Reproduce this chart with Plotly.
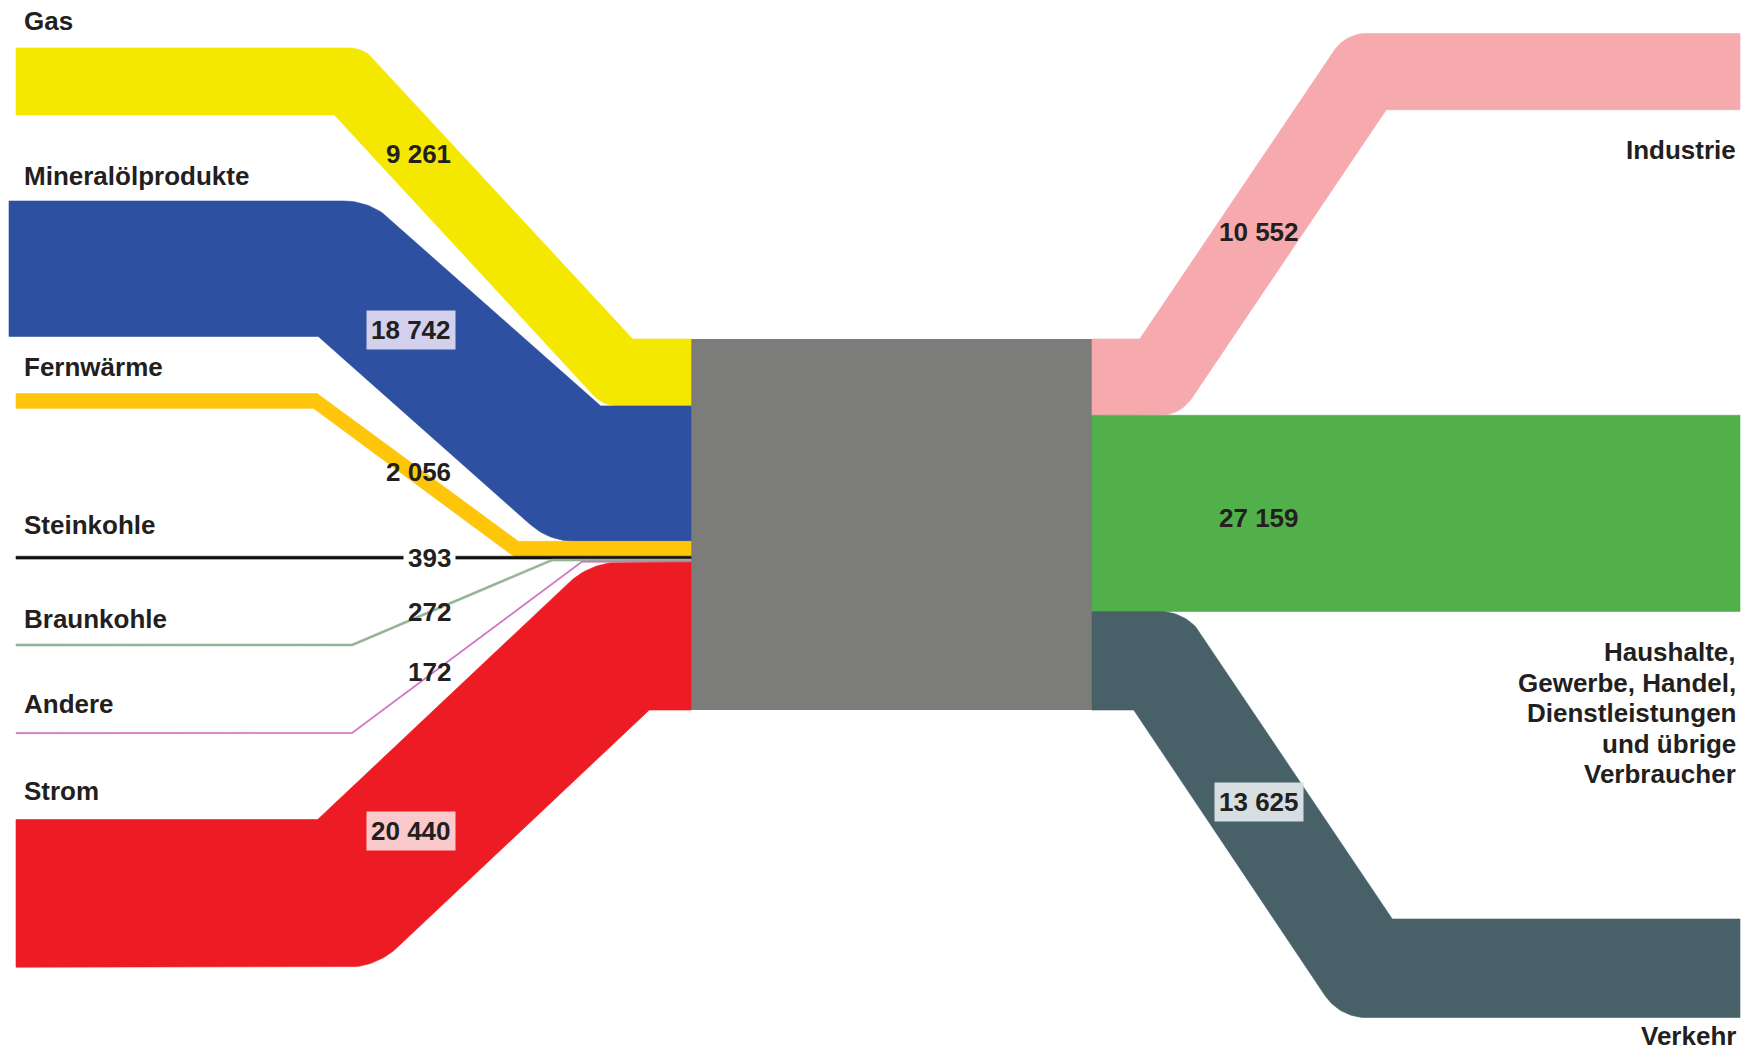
import numpy as np
import plotly.graph_objects as go

# ---------------- data ----------------
sources = ["Gas", "Mineralölprodukte", "Fernwärme", "Steinkohle", "Braunkohle", "Andere", "Strom"]
source_values = [9261, 18742, 2056, 393, 272, 172, 20440]

sinks = ["Industrie",
         "Haushalte, Gewerbe, Handel, Dienstleistungen und übrige Verbraucher",
         "Verkehr"]
sink_label_lines = [["Industrie"],
                    ["Haushalte,", "Gewerbe, Handel,", "Dienstleistungen", "und übrige", "Verbraucher"],
                    ["Verkehr"]]
sink_values = [10552, 27159, 13625]

# ---------------- styles ----------------
source_colors = ["#F5E800", "#2D50A0", "#FFC50A", "#101010", "#93B397", "#CC6FBF", "#ED1C24"]
sink_colors = ["#F7AAAE", "#52B04A", "#486168"]
block_color = "#7C7C7A"
text_color = "#231F20"
value_bg = {"Mineralölprodukte": "#D2D0EC", "Strom": "#F9C9CB", "Steinkohle": "#FFFFFF",
            "Verkehr": "#D6DEE1"}
FONT = "Liberation Sans, Arial, sans-serif"
FS = 26

# ---------------- layout (pixels) ----------------
W, H = 1744, 1054
BLOCK_X0, BLOCK_X1, BLOCK_TOP, BLOCK_PX = 691, 1092, 339, 371
total = sum(source_values)
U = total / BLOCK_PX          # data units per pixel (same in x and y)

src_x_start = [16, 9, 16, 16, 16, 16, 16]
src_top_px = [48, 201, 393.5, None, 644, 732.4, 819.5]      # None -> straight
src_bends_px = [(349, 618), (344, 575), (316, 516), (347, 620), (352, 552), (352, 582), (347, 620)]
sink_top_px = [33.5, None, 919]
sink_bends_px = [(1160, 1366), (1160, 1366), (1160, 1366)]
SINK_X_END = 1740

src_label_y = [20.7, 176, 367, 525, 619, 704, 791]
SRC_LABEL_X = 22
sink_label_y = [150, 652, 1036]
SINK_LABEL_X = 1738
LINE_STEP = 30.5

src_value_xy = [(452, 154), (452, 330), (452, 472), (452, 558), (452, 611.5), (452, 672), (452, 831)]
sink_value_xy = [(1300, 231.5), (1300, 517.6), (1300, 801.6)]


def px(v):
    return v * U


def band(points, width, n_arc=18):
    """Polygon of a stroke with butt ends, round outer joins and mitred inner joins."""
    P = np.asarray(points, float)
    h = width / 2.0
    d = np.diff(P, axis=0)
    L = np.hypot(d[:, 0], d[:, 1])
    d = d / L[:, None]
    n = np.stack([-d[:, 1], d[:, 0]], axis=1)
    A = [P[0] + h * n[0]]
    B = [P[0] - h * n[0]]
    for j in range(1, len(P) - 1):
        n1, n2 = n[j - 1], n[j]
        cross = d[j - 1, 0] * d[j, 1] - d[j - 1, 1] * d[j, 0]
        if abs(cross) < 1e-9:
            A.append(P[j] + h * n1)
            B.append(P[j] - h * n1)
            continue
        miter = h * (n1 + n2) / (1.0 + np.dot(n1, n2))
        to_A = np.dot(d[j], n1) > 0
        f, t = (-n1, -n2) if to_A else (n1, n2)
        a0 = np.arctan2(f[1], f[0])
        a1 = np.arctan2(t[1], t[0])
        da = (a1 - a0 + np.pi) % (2 * np.pi) - np.pi
        ang = a0 + da * np.linspace(0, 1, n_arc)
        arc = P[j] + h * np.stack([np.cos(ang), np.sin(ang)], axis=1)
        if to_A:
            A.append(P[j] + miter)
            B.extend(list(arc))
        else:
            B.append(P[j] - miter)
            A.extend(list(arc))
    A.append(P[-1] + h * n[-1])
    B.append(P[-1] - h * n[-1])
    poly = np.vstack([np.array(A), np.array(B)[::-1], np.array(A[:1])])
    return poly[:, 0], poly[:, 1]


fig = go.Figure()

# central block
bx0, bx1 = px(BLOCK_X0), px(BLOCK_X1)
by0 = px(BLOCK_TOP)
by1 = by0 + total
fig.add_trace(go.Scatter(x=[bx0, bx1, bx1, bx0, bx0], y=[by0, by0, by1, by1, by0],
                         fill="toself", fillcolor=block_color, mode="lines",
                         line=dict(width=0, color=block_color), hoverinfo="skip", showlegend=False))

# incoming flows
slot = by0
for i, (name, v) in enumerate(zip(sources, source_values)):
    y_block = slot + v / 2
    slot += v
    y_left = y_block if src_top_px[i] is None else px(src_top_px[i]) + v / 2
    b1, b2 = src_bends_px[i]
    pts = [(px(src_x_start[i]), y_left), (px(b1), y_left), (px(b2), y_block), (bx0, y_block)]
    xs, ys = band(pts, v)
    fig.add_trace(go.Scatter(x=xs, y=ys, fill="toself", fillcolor=source_colors[i], mode="lines",
                             line=dict(width=0.6, color=source_colors[i]), name=name,
                             hoverinfo="name", showlegend=False))

# outgoing flows
slot = by0
for i, (name, v) in enumerate(zip(sinks, sink_values)):
    y_block = slot + v / 2
    slot += v
    y_right = y_block if sink_top_px[i] is None else px(sink_top_px[i]) + v / 2
    b1, b2 = sink_bends_px[i]
    pts = [(bx1, y_block), (px(b1), y_block), (px(b2), y_right), (px(SINK_X_END), y_right)]
    xs, ys = band(pts, v)
    fig.add_trace(go.Scatter(x=xs, y=ys, fill="toself", fillcolor=sink_colors[i], mode="lines",
                             line=dict(width=0.6, color=sink_colors[i]), name=name,
                             hoverinfo="name", showlegend=False))

font = dict(family=FONT, size=FS, color=text_color, weight=700)


def fmt(v):
    return f"{v:,}".replace(",", " ")


annotations = []
for name, y in zip(sources, src_label_y):
    annotations.append(dict(x=px(SRC_LABEL_X), y=px(y), text=name, showarrow=False,
                            xanchor="left", yanchor="middle", font=font))
for lines, y in zip(sink_label_lines, sink_label_y):
    for k, line in enumerate(lines):
        annotations.append(dict(x=px(SINK_LABEL_X), y=px(y + k * LINE_STEP), text=line,
                                showarrow=False, xanchor="right", yanchor="middle", font=font))
PAD = 4
for name, v, (x, y) in zip(sources, source_values, src_value_xy):
    annotations.append(dict(x=px(x + PAD), y=px(y), text=fmt(v), showarrow=False,
                            xanchor="right", yanchor="middle", font=font, borderpad=PAD,
                            bgcolor=value_bg.get(name, "rgba(0,0,0,0)")))
for name, v, (x, y) in zip(sinks, sink_values, sink_value_xy):
    annotations.append(dict(x=px(x + PAD), y=px(y), text=fmt(v), showarrow=False,
                            xanchor="right", yanchor="middle", font=font, borderpad=PAD,
                            bgcolor=value_bg.get(name, "rgba(0,0,0,0)")))

fig.update_layout(
    width=W, height=H,
    margin=dict(l=0, r=0, t=0, b=0),
    paper_bgcolor="white", plot_bgcolor="white",
    xaxis=dict(range=[0, px(W)], visible=False, fixedrange=True),
    yaxis=dict(range=[px(H), 0], visible=False, fixedrange=True),
    annotations=annotations,
    showlegend=False,
)

fig.write_html("out.html",
               config={"displayModeBar": False},
               post_script="document.body.style.margin='0';document.body.style.overflow='hidden';")
